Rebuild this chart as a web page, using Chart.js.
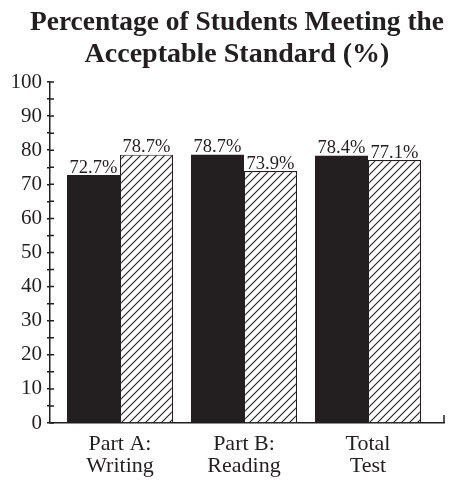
<!DOCTYPE html>
<html>
<head>
<meta charset="utf-8">
<script src="https://cdn.jsdelivr.net/npm/chart.js@4.4.0/dist/chart.umd.min.js"></script>
<style>
  body { margin: 0; background: #fff; }
  #wrap { width: 451px; height: 482px; }
</style>
</head>
<body>
<div id="wrap"><canvas id="scoreChart" width="451" height="482"></canvas></div>
<script>
// categories and values
let categories = [['Part A:', 'Writing'], ['Part B:', 'Reading'], ['Total', 'Test']];
let positions = [1, 2, 3];
let darkValues = [72.7, 78.7, 78.4];
let hatchValues = [78.7, 73.9, 77.1];
let yTicks = [0, 10, 20, 30, 40, 50, 60, 70, 80, 90, 100];

let ink = '#231f20';
let serif = "'Liberation Serif', 'Times New Roman', serif";

let makeHatch = () => {
  let n = 8;
  let c = document.createElement('canvas');
  c.width = n; c.height = n;
  let g = c.getContext('2d');
  g.fillStyle = '#fff';
  g.fillRect(0, 0, n, n);
  g.strokeStyle = ink;
  g.lineWidth = 1.1;
  g.beginPath();
  g.moveTo(0, n); g.lineTo(n, 0);
  g.moveTo(-1, 1); g.lineTo(1, -1);
  g.moveTo(n - 1, n + 1); g.lineTo(n + 1, n - 1);
  g.stroke();
  return g.createPattern(c, 'repeat');
}

// value text above each bar
let valueLabels = {
  id: 'valueLabels',
  afterDatasetsDraw(chart) {
    let ctx = chart.ctx;
    ctx.save();
    ctx.font = '18.5px ' + serif;
    ctx.fillStyle = ink;
    ctx.textAlign = 'center';
    ctx.textBaseline = 'alphabetic';
    chart.data.datasets.forEach((ds, d) => {
      chart.getDatasetMeta(d).data.forEach((bar, i) => {
        ctx.fillText(ds.data[i].y.toFixed(1) + '%', bar.x, bar.y - 2.5);
      });
    });
    ctx.restore();
  }
};

// ticks cross the y axis, and the x axis turns up at its end
let axisMarks = {
  id: 'axisMarks',
  afterLayout(chart) {
    // let the y labels use the space left of the padded box
    chart.scales.y.left = 0;
  },
  afterDraw(chart) {
    let ctx = chart.ctx;
    let y = chart.scales.y;
    let area = chart.chartArea;
    ctx.save();
    ctx.strokeStyle = ink;
    ctx.lineWidth = 1.5;
    ctx.beginPath();
    y.ticks.forEach(t => {
      let py = y.getPixelForValue(t.value);
      ctx.moveTo(area.left, py);
      ctx.lineTo(area.left + 4, py);
    });
    ctx.moveTo(area.right, area.bottom);
    ctx.lineTo(area.right, area.bottom - 8);
    ctx.stroke();
    ctx.restore();
  }
};

const ctx = document.getElementById('scoreChart').getContext('2d');

let myChart = new Chart(ctx, {
  type: 'bar',
  data: {
    datasets: [{
        data: positions.map((p, i) => ({ x: p, y: darkValues[i] })),
        backgroundColor: ink,
        borderWidth: 0
      }, {
        data: positions.map((p, i) => ({ x: p, y: hatchValues[i] })),
        backgroundColor: makeHatch(),
        borderColor: ink,
        borderWidth: 1.2
      }
    ]
  },
  options: {
    responsive: false,
    animation: false,
    devicePixelRatio: 1,
    categoryPercentage: 0.855,
    barPercentage: 1,
    layout: { padding: { left: 30, right: 7, top: 0, bottom: 0 } },
    plugins: {
      legend: { display: false },
      tooltip: { enabled: false },
      title: {
        display: true,
        text: ['Percentage of Students Meeting the', 'Acceptable Standard (%)'],
        color: ink,
        font: { family: serif, size: 28, weight: 'bold', lineHeight: 1.143 },
        padding: { top: 7, bottom: 11 }
      }
    },
    scales: {
      x: {
        type: 'linear',
        offset: false,
        min: 0.4355,
        max: 3.6129,
        afterFit: s => { s.height = 59; },
        afterBuildTicks: s => { s.ticks = positions.map(v => ({ value: v })); },
        ticks: {
          autoSkip: false,
          maxRotation: 0,
          padding: 10,
          color: ink,
          font: { family: serif, size: 22, lineHeight: 1.0 },
          callback: v => categories[positions.indexOf(v)] || ''
        },
        grid: { offset: false, drawOnChartArea: false, drawTicks: false },
        border: { color: ink, width: 1.5 }
      },
      y: {
        min: 0,
        max: 100,
        afterFit: s => { s.width = 20; },
        ticks: {
          stepSize: 5,
          autoSkip: false,
          padding: 5,
          color: ink,
          font: { family: serif, size: 21 },
          callback: v => yTicks.includes(v) ? String(v) : ''
        },
        grid: { drawOnChartArea: false, tickLength: 3, color: ink, lineWidth: 1.5 },
        border: { color: ink, width: 1.5 }
      }
    }
  },
  plugins: [valueLabels, axisMarks]
});
</script>
</body>
</html>
